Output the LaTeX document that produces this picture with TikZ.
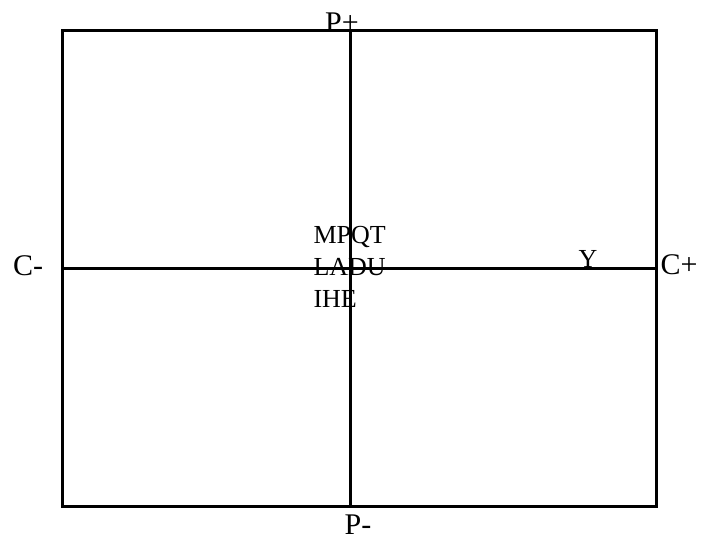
\documentclass[tikz,border=0pt]{standalone}
\usepackage{fontspec}
\setmainfont{Liberation Serif}
\tikzset{
  axislabel/.style={font=\fontsize{30}{34}\selectfont, inner sep=0pt, anchor=base},
  quadtext/.style={font=\fontsize{26}{32}\selectfont, inner sep=0pt, anchor=base west},
}
\begin{document}
\begin{tikzpicture}[x=1pt,y=-1pt,line width=3pt]
  \useasboundingbox (0,0) rectangle (709,540);
  % Frame
  \draw (62,31) rectangle (656,506);

  % Axes
  \coordinate (ptop) at (350,31);
  \coordinate (pbot) at (350,506);
  \coordinate (cleft) at (62,268);
  \coordinate (cright) at (656,268);
  \draw (ptop) -- (pbot);
  \draw (cleft) -- (cright);

  % Axis labels
  \node[axislabel] (pplus) at (342,33) {P+};
  \node[axislabel] (pminus) at (358,534) {P-};
  \node[axislabel] (cminus) at (28,275) {C-};
  \node[axislabel] (cplus) at (679,274) {C+};
  \node[axislabel, font=\fontsize{26}{32}\selectfont] (ylabel) at (588,267) {Y};

  % Centre text
  \node[quadtext] (mpqt) at (312,243) {MPQT};
  \node[quadtext] (ladu) at (312,275) {LADU};
  \node[quadtext] (ihe) at (312,307) {IHE};
\end{tikzpicture}
\end{document}
